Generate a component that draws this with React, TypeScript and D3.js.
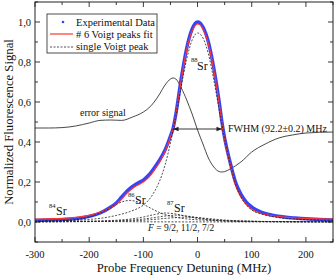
import React from 'react';
import * as d3 from 'd3';

// frequency grids (MHz)
const expFreq = [-300, -275, -250, -225, -200, -180, -160, -150, -140, -130, -120, -110, -100, -90, -80, -70, -60, -50, -45, -40, -30, -20, -10, 0, 5, 10, 20, 30, 40, 45, 50, 60, 70, 80, 90, 100, 120, 140, 160, 180, 200, 225, 250];
const expData = [0.008, 0.01, 0.012, 0.017, 0.028, 0.045, 0.075, 0.095, 0.125, 0.155, 0.178, 0.195, 0.21, 0.235, 0.27, 0.31, 0.36, 0.43, 0.47, 0.54, 0.72, 0.87, 0.965, 1.0, 0.995, 0.975, 0.9, 0.77, 0.6, 0.5, 0.42, 0.3, 0.2, 0.14, 0.1, 0.075, 0.047, 0.033, 0.025, 0.02, 0.016, 0.013, 0.01];
const fitData = [0.014, 0.016, 0.018, 0.023, 0.033, 0.048, 0.072, 0.09, 0.115, 0.145, 0.168, 0.185, 0.2, 0.223, 0.258, 0.3, 0.352, 0.425, 0.465, 0.535, 0.71, 0.86, 0.955, 0.99, 0.985, 0.965, 0.89, 0.76, 0.59, 0.49, 0.41, 0.29, 0.185, 0.125, 0.088, 0.064, 0.04, 0.03, 0.024, 0.02, 0.018, 0.016, 0.015];

const sr88Freq = [-300, -250, -200, -175, -150, -125, -100, -90, -80, -70, -60, -50, -40, -30, -20, -10, 0, 10, 20, 30, 40, 50, 60, 70, 80, 90, 100, 125, 150, 200, 250];
const sr88 = [0.003, 0.006, 0.013, 0.02, 0.033, 0.052, 0.085, 0.11, 0.15, 0.205, 0.285, 0.395, 0.53, 0.68, 0.815, 0.91, 0.945, 0.92, 0.84, 0.71, 0.56, 0.415, 0.29, 0.19, 0.125, 0.085, 0.06, 0.035, 0.022, 0.012, 0.008];

const sr86Freq = [-300, -250, -225, -200, -180, -160, -150, -140, -125, -110, -100, -90, -80, -70, -60, -50, -25, 0, 50, 100, 250];
const sr86 = [0.002, 0.006, 0.012, 0.025, 0.045, 0.072, 0.088, 0.1, 0.108, 0.1, 0.088, 0.074, 0.06, 0.047, 0.037, 0.029, 0.017, 0.011, 0.005, 0.003, 0.001];

const sr84Freq = [-300, -285, -270, -255, -240, -220, -200, -150, -100, 0, 250];
const sr84 = [0.004, 0.006, 0.007, 0.006, 0.005, 0.004, 0.003, 0.002, 0.001, 0.0005, 0.0002];

const sr87Freq = [-300, -200, -150, -120, -100, -80, -60, -40, -20, 0, 20, 40, 60, 100, 150, 250];
const sr87a = [0.001, 0.004, 0.009, 0.016, 0.025, 0.037, 0.045, 0.04, 0.028, 0.018, 0.011, 0.007, 0.005, 0.003, 0.002, 0.001];
const sr87b = [0.001, 0.003, 0.006, 0.01, 0.015, 0.022, 0.03, 0.034, 0.03, 0.022, 0.014, 0.009, 0.006, 0.003, 0.002, 0.001];
const sr87c = [0.001, 0.002, 0.004, 0.006, 0.009, 0.013, 0.018, 0.022, 0.024, 0.022, 0.017, 0.012, 0.008, 0.004, 0.002, 0.001];

const errFreq = [-300, -275, -250, -225, -200, -180, -160, -140, -120, -100, -90, -80, -70, -60, -50, -45, -40, -30, -20, -10, 0, 10, 20, 30, 40, 45, 50, 60, 80, 100, 125, 150, 175, 200, 250];
const errSignal = [0.47, 0.47, 0.472, 0.48, 0.495, 0.508, 0.51, 0.508, 0.525, 0.55, 0.57, 0.6, 0.64, 0.685, 0.715, 0.72, 0.715, 0.67, 0.61, 0.54, 0.46, 0.39, 0.32, 0.275, 0.252, 0.25, 0.252, 0.265, 0.3, 0.35, 0.39, 0.42, 0.435, 0.445, 0.45];

const xTicks = [-300, -200, -100, 0, 100, 200];
const yTicks = [0, 0.2, 0.4, 0.6, 0.8, 1.0];

const W = 335, H = 278;
const L = 35, R = 333, T = 2, B = 242;
const FONT = "'Liberation Serif', 'DejaVu Serif', serif";

export default function App() {
  const x = d3.scaleLinear().domain([-300, 250]).range([L, R]);
  const y = d3.scaleLinear().domain([-0.1, 1.1]).range([B, T]);
  const line = (fs: number[], vs: number[]) =>
    d3.line<number>().x((_, i) => x(fs[i])).y(d => y(d)).curve(d3.curveMonotoneX)(vs) || '';

  const fmt = (v: number) => v.toFixed(1).replace('.', ',');
  const xMinor = d3.range(-300, 251, 50);
  const yMinor = d3.range(-0.1, 1.11, 0.1);
  const arrowY = y(0.465);
  const ts = { fontFamily: FONT, fill: '#111' } as React.CSSProperties;

  return (
    <svg width={W} height={H} style={{ position: 'absolute', left: 0, top: 0, background: '#fff', fontFamily: FONT }}>
      <defs>
        <clipPath id="plot"><rect x={L} y={T} width={R - L} height={B - T} /></clipPath>
        <marker id="ah" viewBox="0 0 10 10" refX="10" refY="5" markerWidth="7" markerHeight="6" orient="auto-start-reverse">
          <path d="M0,1 L10,5 L0,9 Z" fill="#222" />
        </marker>
      </defs>
      <g clipPath="url(#plot)" fill="none">
        <path d={line(errFreq, errSignal)} stroke="#333" strokeWidth={0.9} />
        <path d={line(expFreq, expData)} stroke="#3345f5" strokeWidth={3.4} />
        <path d={line(expFreq, fitData)} stroke="#ff3333" strokeWidth={1.2} />
        {[[sr88Freq, sr88], [sr86Freq, sr86], [sr84Freq, sr84], [sr87Freq, sr87a], [sr87Freq, sr87b], [sr87Freq, sr87c]].map((d, i) => (
          <path key={i} d={line(d[0], d[1])} stroke="#222" strokeWidth={0.8} strokeDasharray="2,1.5" />
        ))}
      </g>
      {/* frame */}
      <rect x={L} y={T} width={R - L} height={B - T} fill="none" stroke="#222" strokeWidth={1} />
      {xMinor.map(v => {
        const len = v % 100 === 0 ? 5 : 3;
        return (
          <g key={'x' + v} stroke="#222" strokeWidth={0.9}>
            <line x1={x(v)} x2={x(v)} y1={B} y2={B - len} />
            <line x1={x(v)} x2={x(v)} y1={T} y2={T + len} />
          </g>
        );
      })}
      {yMinor.map((v, i) => {
        const len = i % 2 === 1 ? 5 : 3;
        return (
          <g key={'y' + i} stroke="#222" strokeWidth={0.9}>
            <line x1={L} x2={L + len} y1={y(v)} y2={y(v)} />
            <line x1={R} x2={R - len} y1={y(v)} y2={y(v)} />
          </g>
        );
      })}
      {xTicks.map(v => (
        <text key={'xl' + v} x={x(v)} y={B + 16} fontSize={10.5} textAnchor="middle" style={ts}>{v}</text>
      ))}
      {yTicks.map(v => (
        <text key={'yl' + v} x={L - 4} y={y(v) + 3.5} fontSize={10.5} textAnchor="end" style={ts}>{fmt(v)}</text>
      ))}
      <text x={(L + R) / 2} y={272} fontSize={12.7} textAnchor="middle" style={ts}>Probe Frequency Detuning (MHz)</text>
      <text transform={`translate(13,${(T + B) / 2}) rotate(-90)`} fontSize={12.7} textAnchor="middle" style={ts}>Normalized Fluorescence Signal</text>

      {/* legend */}
      <rect x={47} y={14} width={110} height={39} fill="#fff" stroke="#222" strokeWidth={0.8} />
      <circle cx={63} cy={22} r={1.3} fill="#3345f5" />
      <text x={76} y={25.5} fontSize={10.5} style={ts}>Experimental Data</text>
      <line x1={50} x2={73} y1={34} y2={34} stroke="#ff3333" strokeWidth={1.2} />
      <text x={76} y={37.5} fontSize={10.5} style={ts}>{'# 6 Voigt peaks fit'}</text>
      <line x1={50} x2={73} y1={47} y2={47} stroke="#222" strokeWidth={0.8} strokeDasharray="2,1.5" />
      <text x={76} y={50} fontSize={10.5} style={ts}>single Voigt peak</text>

      {/* annotations */}
      <text x={80} y={116} fontSize={10} style={ts}>error signal</text>
      <line x1={x(-45)} x2={x(45)} y1={arrowY} y2={arrowY} stroke="#222" strokeWidth={0.9} markerStart="url(#ah)" markerEnd="url(#ah)" />
      <text x={228} y={132} fontSize={10} style={ts}>FWHM (92.2±0.2) MHz</text>
      <text x={191} y={62} fontSize={6.5} style={ts}>88</text>
      <text x={197} y={70} fontSize={12} style={ts}>Sr</text>
      <text x={128} y={197} fontSize={6.5} style={ts}>86</text>
      <text x={135} y={204} fontSize={12} style={ts}>Sr</text>
      <text x={49} y={208} fontSize={6.5} style={ts}>84</text>
      <text x={56} y={215} fontSize={12} style={ts}>Sr</text>
      <text x={167} y={205} fontSize={6.5} style={ts}>87</text>
      <text x={174} y={212} fontSize={12} style={ts}>Sr</text>
      <text x={148} y={231} fontSize={9.5} style={ts}><tspan fontStyle="italic">F</tspan> = 9/2, 11/2, 7/2</text>
    </svg>
  );
}
